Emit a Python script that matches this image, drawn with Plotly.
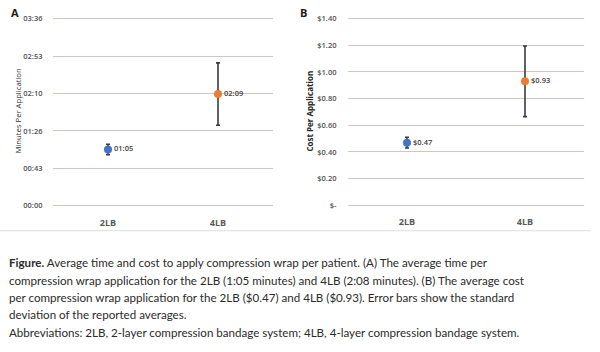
import plotly.graph_objects as go

categories = ["2LB", "4LB"]
time_sec = [65, 129]
time_sd = [6, 36]
cost = [0.47, 0.93]
cost_sd = [0.04, 0.265]
colors = ["#4472C4", "#ED7D31"]

time_tickvals = [0, 43.2, 86.4, 129.6, 172.8, 216]
time_ticktext = ["00:00", "00:43", "01:26", "02:10", "02:53", "03:36"]
cost_tickvals = [0, 0.2, 0.4, 0.6, 0.8, 1.0, 1.2, 1.4]
cost_ticktext = ["$-", "$0.20", "$0.40", "$0.60", "$0.80", "$1.00", "$1.20", "$1.40"]

caption_lines = [
    "<b>Figure.</b> Average time and cost to apply compression wrap per patient. (A) The average time per",
    "compression wrap application for the 2LB (1:05 minutes) and 4LB (2:08 minutes). (B) The average cost",
    "per compression wrap application for the 2LB ($0.47) and 4LB ($0.93). Error bars show the standard",
    "deviation of the reported averages.",
    "Abbreviations: 2LB, 2-layer compression bandage system; 4LB, 4-layer compression bandage system.",
]

def mmss(s):
    s = int(round(s))
    return f"{s // 60:02d}:{s % 60:02d}"

W, H = 600, 352
def py(px):
    return (H - px) / H

grid = "#d3c6c0"
tickfont = dict(family="Open Sans", size=7.5, color="#505050", weight=600)
errcol = "#3a3a3a"

fig = go.Figure()
for i, c in enumerate(categories):
    fig.add_trace(go.Scatter(
        x=[c], y=[time_sec[i]], mode="markers+text",
        marker=dict(color=colors[i], size=8),
        error_y=dict(type="data", array=[time_sd[i]], color=errcol, thickness=1.6, width=2),
        text=[mmss(time_sec[i])], textposition="middle right",
        textfont=dict(family="Open Sans", size=7.5, color="#404040", weight=600),
        xaxis="x", yaxis="y", showlegend=False, cliponaxis=False))
    fig.add_trace(go.Scatter(
        x=[c], y=[cost[i]], mode="markers+text",
        marker=dict(color=colors[i], size=8),
        error_y=dict(type="data", array=[cost_sd[i]], color=errcol, thickness=1.6, width=2),
        text=[f"${cost[i]:.2f}"], textposition="middle right",
        textfont=dict(family="Open Sans", size=7.5, color="#404040", weight=600),
        xaxis="x2", yaxis="y2", showlegend=False, cliponaxis=False))

# ranges padded slightly so that edge gridlines are drawn
t_lo, t_hi = -1.2, 217.2
c_lo, c_hi = -0.008, 1.408
ppx_t = (206.5 - 15) / 216
ydom_t = [py(206.5 + (0 - t_lo) * ppx_t), py(15 - (t_hi - 216) * ppx_t)]
ppx_c = (206.0 - 15) / 1.4
ydom_c = [py(206.0 + (0 - c_lo) * ppx_c), py(15 - (c_hi - 1.4) * ppx_c)]

axis_common = dict(showline=False, zeroline=False)
xfont = dict(family="Open Sans", size=9, color="#595959", weight="bold")
fig.update_layout(
    width=W, height=H, margin=dict(l=0, r=0, t=0, b=0),
    paper_bgcolor="white", plot_bgcolor="white",
    xaxis=dict(domain=[53 / W, 273 / W], type="category", categoryorder="array",
               categoryarray=categories, range=[-0.5, 1.5], showgrid=False,
               ticks="outside", ticklen=7, tickcolor="rgba(0,0,0,0)",
               tickfont=xfont, anchor="y", **axis_common),
    yaxis=dict(domain=ydom_t, range=[t_lo, t_hi], tickvals=time_tickvals, ticktext=time_ticktext,
               showgrid=True, gridcolor=grid, gridwidth=1, ticks="outside", ticklen=8,
               tickcolor="rgba(0,0,0,0)", tickfont=tickfont, anchor="x", **axis_common),
    xaxis2=dict(domain=[348 / W, 584 / W], type="category", categoryorder="array",
                categoryarray=categories, range=[-0.5, 1.5], showgrid=False,
                ticks="outside", ticklen=7, tickcolor="rgba(0,0,0,0)",
                tickfont=xfont, anchor="y2", **axis_common),
    yaxis2=dict(domain=ydom_c, range=[c_lo, c_hi], tickvals=cost_tickvals, ticktext=cost_ticktext,
                showgrid=True, gridcolor=grid, gridwidth=1, ticks="outside", ticklen=9,
                tickcolor="rgba(0,0,0,0)", tickfont=tickfont, anchor="x2", **axis_common),
)

ann = []
ann.append(dict(text="<b>A</b>", x=9 / W, y=py(9), xref="paper", yref="paper",
                xanchor="left", yanchor="middle", showarrow=False,
                font=dict(family="Open Sans", size=11, color="#1a1a1a")))
ann.append(dict(text="<b>B</b>", x=298 / W, y=py(9), xref="paper", yref="paper",
                xanchor="left", yanchor="middle", showarrow=False,
                font=dict(family="Open Sans", size=11, color="#1a1a1a")))
ann.append(dict(text="Minutes Per Application", x=17 / W, y=py(110), xref="paper", yref="paper",
                textangle=-90, showarrow=False, xanchor="center", yanchor="middle",
                font=dict(family="Open Sans", size=7.7, color="#333333")))
ann.append(dict(text="<b>Cost Per Application</b>", x=309 / W, y=py(110), xref="paper", yref="paper",
                textangle=-90, showarrow=False, xanchor="center", yanchor="middle",
                font=dict(family="Open Sans", size=8, color="#262626")))
line_y = [265, 283, 300.5, 318, 336.5]
for t, yy in zip(caption_lines, line_y):
    ann.append(dict(text=t, x=7 / W, y=py(yy), xref="paper", yref="paper",
                    xanchor="left", yanchor="middle", showarrow=False,
                    font=dict(family="Lato", size=11.6, color="#2b2b2b")))
fig.update_layout(annotations=ann)
fig.add_shape(type="line", xref="paper", yref="paper", x0=0, x1=590 / W, y0=py(232), y1=py(232),
              line=dict(color="#dddddd", width=1))

fig.write_html("out.html")
